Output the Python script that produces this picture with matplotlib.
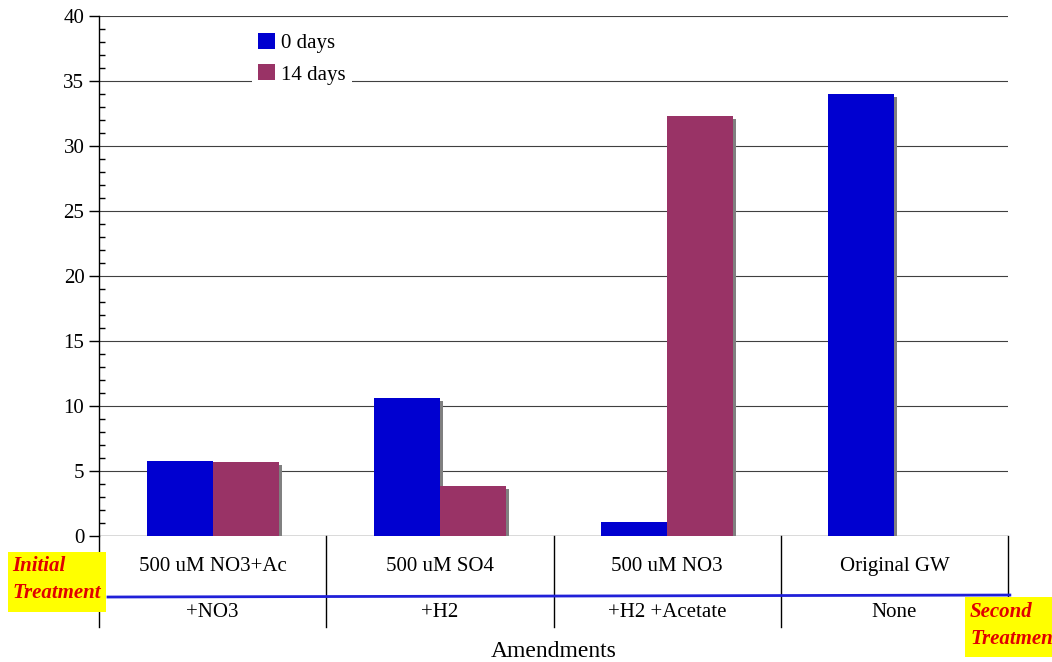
import numpy as np
import matplotlib
matplotlib.use('Agg')
import matplotlib.pyplot as plt
import matplotlib.patheffects as pe
from matplotlib.patches import Rectangle
from matplotlib.ticker import MultipleLocator

plt.rcParams['font.family'] = ['Liberation Serif', 'DejaVu Serif']

# Dados do grafico
tratamento_inicial = ['500 uM NO3+Ac', '500 uM SO4', '500 uM NO3', 'Original GW']
tratamento_segundo = ['+NO3', '+H2', '+H2 +Acetate', 'None']
dias_0 = [5.77, 10.6, 1.08, 34.0]
dias_14 = [5.69, 3.85, 32.3, np.nan]
series = ['0 days', '14 days']

azul = '#0000d0'
roxo = '#993366'

fig = plt.figure(figsize=(10.52, 6.62), dpi=100)
ax = fig.add_axes([0.0941, 0.1903, 0.8641, 0.7855])

x = np.arange(len(tratamento_inicial))
w = 0.29
sombra = [pe.SimplePatchShadow(offset=(2.2, -2.2), shadow_rgbFace='#808080', alpha=1.0), pe.Normal()]

ax.bar(x - w / 2, dias_0, w, color=azul, label=series[0], zorder=3, path_effects=sombra)
ax.bar(x + w / 2, dias_14, w, color=roxo, label=series[1], zorder=3, path_effects=sombra)

# Eixos
ax.set_xlim(-0.5, 3.5)
ax.set_ylim(0, 40)
ax.yaxis.set_major_locator(MultipleLocator(5))
ax.yaxis.set_minor_locator(MultipleLocator(1))
ax.tick_params(axis='y', which='major', direction='out', length=7, width=1, labelsize=15)
ax.tick_params(axis='y', which='minor', direction='in', length=4, width=1)
ax.set_xticks([])
ax.grid(axis='y', color='#404040', linewidth=0.8, zorder=1)
for s in ['top', 'right', 'bottom']:
    ax.spines[s].set_visible(False)
ax.spines['left'].set_linewidth(1)
ax.axhline(0, color='#707070', linewidth=1, zorder=2)

# Legenda (sem sombra nos marcadores)
leg = ax.legend(loc='upper left', bbox_to_anchor=(0.168, 0.98), fontsize=15,
                handlelength=0.8, handleheight=0.8, handletextpad=0.3,
                labelspacing=0.55, borderpad=0.3, borderaxespad=0,
                frameon=True, fancybox=False, edgecolor='none', facecolor='white', framealpha=1)
leg.set_zorder(5)
for h in leg.legend_handles:
    h.set_path_effects([])

# Tabela de categorias abaixo do eixo
trans = ax.get_xaxis_transform()
for b in [-0.5, 0.5, 1.5, 2.5]:
    ax.plot([b, b], [0, -0.175], color='black', linewidth=1, transform=trans, clip_on=False)
ax.plot([3.5, 3.5], [0, -0.117], color='black', linewidth=1, transform=trans, clip_on=False)

for i in range(len(x)):
    ax.text(x[i], -0.058, tratamento_inicial[i], transform=trans, ha='center', va='center', fontsize=15)
    ax.text(x[i], -0.147, tratamento_segundo[i], transform=trans, ha='center', va='center', fontsize=15)

# Linha azul separando os tratamentos
ax.plot([0.0099, 1.002], [-0.1173, -0.1135], color='#2020d8', linewidth=2,
        transform=ax.transAxes, clip_on=False, zorder=4)

ax.text(0.5, -0.223, 'Amendments', transform=ax.transAxes, ha='center', va='center', fontsize=17)

# Caixas amarelas
fig.patches.append(Rectangle((8 / 1052, 50 / 662), 98 / 1052, 60 / 662, transform=fig.transFigure,
                             facecolor='#ffff00', edgecolor='none', zorder=0))
fig.patches.append(Rectangle((965 / 1052, 5 / 662), 100 / 1052, 60 / 662, transform=fig.transFigure,
                             facecolor='#ffff00', edgecolor='none', zorder=0))
estilo = dict(color='#e00000', fontsize=15, fontweight='bold', fontstyle='italic', va='center', ha='left')
fig.text(12 / 1052, 1 - 566 / 662, 'Initial', **estilo)
fig.text(12 / 1052, 1 - 593 / 662, 'Treatment', **estilo)
fig.text(970 / 1052, 1 - 612 / 662, 'Second', **estilo)
fig.text(970 / 1052, 1 - 639 / 662, 'Treatment', **estilo)

fig.savefig('out.png', dpi=100)
